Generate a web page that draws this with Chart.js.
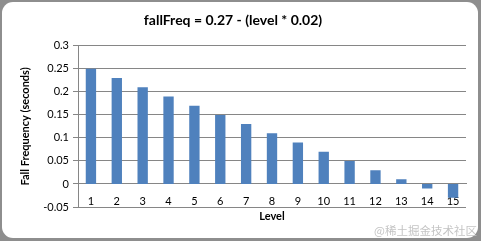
<!DOCTYPE html>
<html>
<head>
<meta charset="utf-8">
<script src="https://cdn.jsdelivr.net/npm/chart.js@4"></script>
<style>
  html, body { margin: 0; padding: 0; }
  body { width: 481px; height: 241px; background: #8e8e8e; position: relative; overflow: hidden; }
  #frame { position: absolute; left: 2px; top: 2px; width: 476px; height: 236px; background: #fff; border-radius: 11px; }
  #chart { position: absolute; left: 0; top: 0; }
  #mark { position: absolute; right: 4px; bottom: 3px; font: 11.5px "Noto Sans CJK SC", sans-serif; color: #c4c4c4; }
</style>
</head>
<body>
<div id="frame"></div>
<canvas id="chart" width="481" height="241"></canvas>
<div id="mark">@稀土掘金技术社区</div>
<script>
// data
const levels = ["1", "2", "3", "4", "5", "6", "7", "8", "9", "10", "11", "12", "13", "14", "15"];
const fallFreq = [0.25, 0.23, 0.21, 0.19, 0.17, 0.15, 0.13, 0.11, 0.09, 0.07, 0.05, 0.03, 0.01, -0.01, -0.03];
const yTickLabels = ["-0.05", "0", "0.05", "0.1", "0.15", "0.2", "0.25", "0.3"];

const ctx = document.getElementById("chart").getContext("2d");

new Chart(ctx, {
  type: "bar",
  data: {
    labels: levels,
    datasets: [
      {
        label: "Fall Frequency",
        data: fallFreq,
        backgroundColor: "#4f81bd",
        borderWidth: 0,
        barPercentage: 0.4,
        categoryPercentage: 1,
      },
    ],
  },
  options: {
    responsive: false,
    animation: false,
    layout: {
      padding: { left: 0, right: 15, top: 0, bottom: 34 },
    },
    plugins: {
      legend: { display: false },
      tooltip: { enabled: false },
      title: {
        display: true,
        text: "fallFreq = 0.27 - (level * 0.02)",
        color: "#000",
        font: { family: "Lato", size: 14, weight: "bold" },
        padding: { top: 12, bottom: 17 },
      },
    },
    scales: {
      x: {
        position: { y: 0 },
        grid: { display: false, drawTicks: false, tickLength: 0 },
        border: { display: true, color: "#868686", width: 1 },
        ticks: {
          color: "#000",
          padding: 11,
          maxRotation: 0,
          font: { family: "Lato", size: 11 },
        },
        title: {
          display: true,
          text: "Level",
          color: "#000",
          font: { family: "Lato", size: 11, weight: "bold" },
          padding: { top: 0, bottom: -3 },
        },
        afterFit: (scale) => {
          scale.height = 36;
        },
      },
      y: {
        min: -0.05,
        max: 0.3,
        grid: { color: "#868686", tickLength: 5 },
        border: { display: true, color: "#868686", width: 1 },
        ticks: {
          stepSize: 0.05,
          color: "#000",
          padding: 4,
          font: { family: "Lato", size: 11 },
          callback: (value, index) => yTickLabels[index],
        },
        title: {
          display: true,
          text: "Fall Frequency (seconds)",
          color: "#000",
          font: { family: "Lato", size: 11, weight: "bold" },
          padding: { top: 19, bottom: 0 },
        },
        afterFit: (scale) => {
          scale.width = 78;
        },
      },
    },
  },
});
</script>
</body>
</html>
